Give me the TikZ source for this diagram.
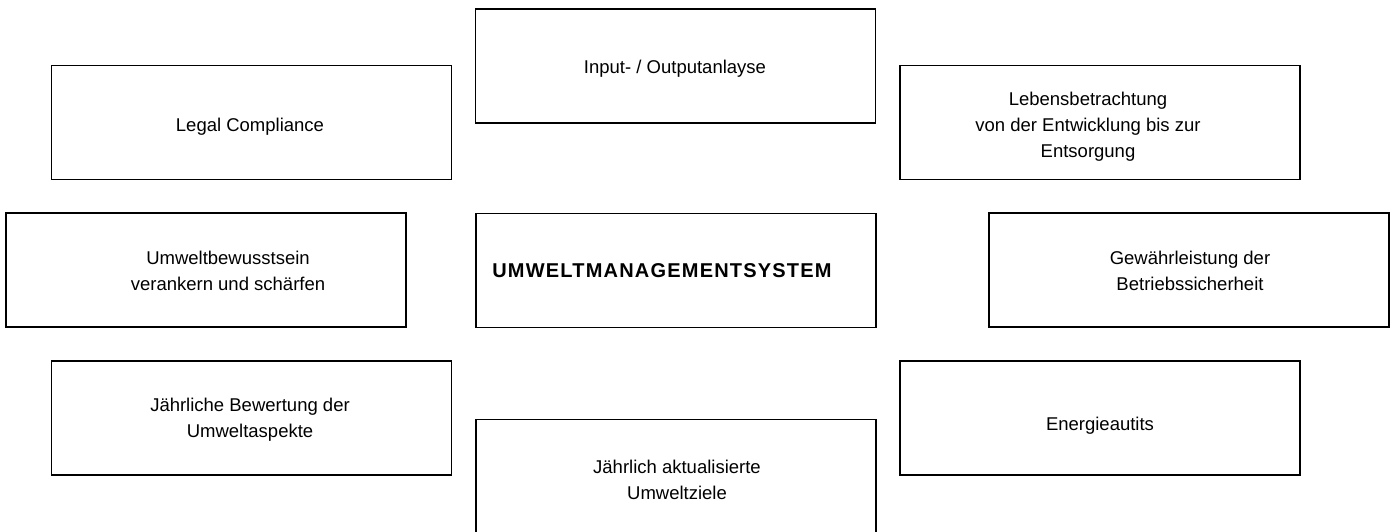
\documentclass[tikz,border=0pt]{standalone}
\usepackage{fontspec}
\setmainfont{Liberation Sans}
\begin{document}
\begin{tikzpicture}[x=1pt,y=-1pt,
  box/.style={draw=black,line width=1.6pt,rectangle,minimum width=400pt,minimum height=114pt,inner sep=0pt,outer sep=0pt},
  txt/.style={anchor=base,align=center,inner sep=0pt,font=\fontsize{18.5}{26}\selectfont},
  boldtxt/.style={anchor=base,inner sep=0pt,font=\fontsize{20}{26}\selectfont\bfseries\addfontfeatures{LetterSpace=6}}]
\useasboundingbox (0,0) rectangle (1395,531);
\node[box] (b1) at (675.6,65.7) {};
\node[box] (b2) at (251.3,122.4) {};
\node[box] (b3) at (1099.7,122.6) {};
\node[box] (b4) at (205.9,270.2) {};
\node[box] (b5) at (676.1,270.6) {};
\node[box] (b6) at (1189.1,270.2) {};
\node[box] (b7) at (251.4,418) {};
\node[box] (b8) at (1099.8,417.9) {};
\node[box] (b9) at (675.8,476.5) {};
\node[txt] (t1) at (675,73) {Input- / Outputanlayse};
\node[txt] (t2) at (250,131) {Legal Compliance};
\node[txt] (t3) at (1088,157) {Lebensbetrachtung\\von der Entwicklung bis zur\\Entsorgung};
\node[txt] (t4) at (228,290) {Umweltbewusstsein\\verankern und schärfen};
\node[boldtxt] (t5) at (662,277.5) {UMWELTMANAGEMENTSYSTEM};
\node[txt] (t6) at (1190,290) {Gewährleistung der\\Betriebssicherheit};
\node[txt] (t7) at (250,437) {Jährliche Bewertung der\\Umweltaspekte};
\node[txt] (t8) at (1100,430) {Energieautits};
\node[txt] (t9) at (677,499) {Jährlich aktualisierte\\Umweltziele};
\end{tikzpicture}
\end{document}
